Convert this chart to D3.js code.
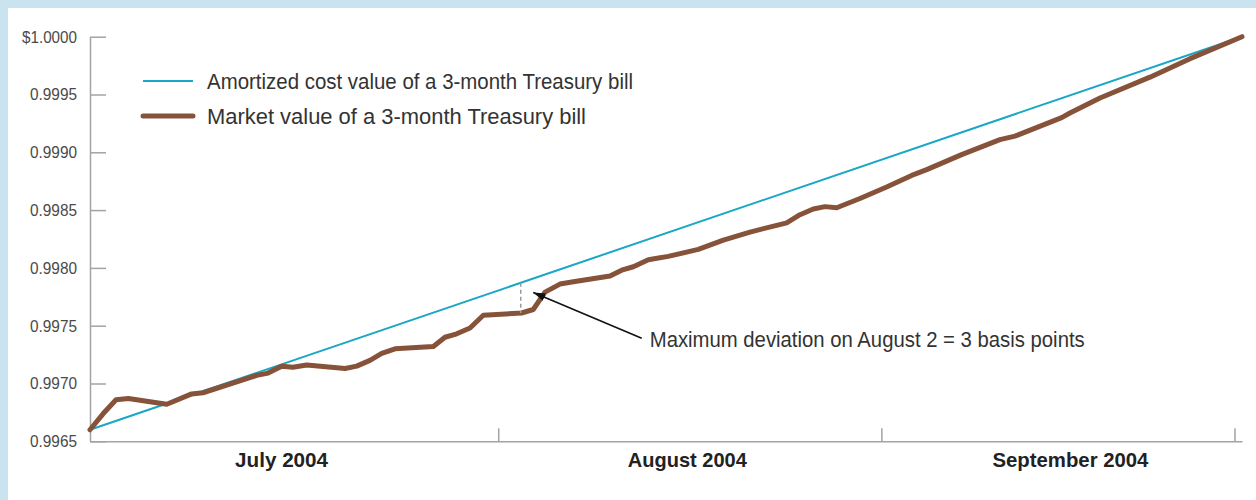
<!DOCTYPE html>
<html>
<head>
<meta charset="utf-8">
<script src="https://cdn.jsdelivr.net/npm/d3@7"></script>
<style>
  html, body { margin: 0; padding: 0; background: #c9e4f0; }
  svg { display: block; }
</style>
</head>
<body>
<script>
// x is days counted from the bill's issue at the start of July 2004
const marketDays = [0, 1.06, 2.08, 3.06, 6.13, 8.12, 9.02, 13.31, 14.22, 15.31, 16.2, 17.31,
  20.37, 21.3, 22.36, 23.3, 24.36, 27.42, 28.35, 29.29, 30.35, 31.41, 34.47, 35.4, 36.34,
  37.53, 38.6, 41.53, 42.46, 43.39, 44.59, 46.18, 48.58, 50.58, 52.71, 55.64, 56.7, 57.76,
  58.7, 59.63, 61.49, 63.62, 65.62, 66.82, 69.61, 72.67, 73.87, 77.6, 78.26, 80.66, 84.65,
  87.85, 92]
const marketValues = [0.99660, 0.99674, 0.99686, 0.99687, 0.99682, 0.99691, 0.99692, 0.99707,
  0.99709, 0.99715, 0.99714, 0.99716, 0.99713, 0.99715, 0.99720, 0.99726, 0.99730, 0.99732,
  0.99740, 0.99743, 0.99748, 0.99759, 0.99761, 0.99764, 0.99779, 0.99786, 0.99788, 0.99793,
  0.99798, 0.99801, 0.99807, 0.99810, 0.99816, 0.99824, 0.99831, 0.99839, 0.99846, 0.99851,
  0.99853, 0.99852, 0.99860, 0.99870, 0.99880, 0.99885, 0.99898, 0.99911, 0.99914, 0.99930,
  0.99934, 0.99947, 0.99965, 0.99981, 1.00000]
const amortDays = [0, 92]
const amortValues = [0.99660, 1.00000]

const yTicks = [0.9965, 0.9970, 0.9975, 0.9980, 0.9985, 0.9990, 0.9995, 1.0000]
const yTickLabels = ['0.9965', '0.9970', '0.9975', '0.9980', '0.9985', '0.9990', '0.9995', '$1.0000']
const monthTickDays = [32.6, 63.2, 91.4]
const monthLabelDays = [15.3, 47.7, 78.3]
const monthLabels = ['July 2004', 'August 2004', 'September 2004']
const legendLabels = ['Amortized cost value of a 3-month Treasury bill', 'Market value of a 3-month Treasury bill']

// annotation: max deviation day, arrow tail / tip, text position
const noteDay = 34.4
const noteArrow = [[44.06, 0.997391], [35.4, 0.997788]]
const noteAt = [44.7, 0.99732]
const noteText = 'Maximum deviation on August 2 = 3 basis points'

const WIDTH = 1256
const HEIGHT = 500
const BLUE = '#1aa7c6'
const BROWN = '#86533a'
const AXIS = '#a3a3a3'
const FONT = '"Liberation Sans", Arial, sans-serif'

// the original face is condensed, so squeeze text to the widths it takes there
const MONTH_WIDTHS = [93, 119, 156]
const LEGEND_WIDTHS = [426, 379]
const NOTE_WIDTH = 435

const svg = d3.select('body')
  .append('svg')
  .attr('width', WIDTH)
  .attr('height', HEIGHT)
  .style('font-family', FONT)

svg.append('rect')
  .attr('width', WIDTH).attr('height', HEIGHT)
  .attr('fill', '#c9e4f0')
svg.append('rect')
  .attr('x', 8).attr('y', 8)
  .attr('width', WIDTH - 8).attr('height', HEIGHT - 8)
  .attr('fill', '#fff')

const x = d3.scaleLinear().domain([0, 92]).range([90, 1242])
const y = d3.scaleLinear().domain([0.9965, 1.0000]).range([441.3, 36.7])

// y axis, ticks pointing into the plot
const yAxis = d3.axisLeft(y)
  .tickValues(yTicks)
  .tickSizeInner(-16)
  .tickSizeOuter(0)
  .tickPadding(13)
  .tickFormat((d, i) => yTickLabels[i])

const gy = svg.append('g')
  .attr('transform', `translate(${x(0)},0)`)
  .call(yAxis)
gy.select('.domain').attr('stroke', AXIS).attr('stroke-width', 1.5)
gy.selectAll('.tick line').attr('stroke', AXIS).attr('stroke-width', 1.5)
gy.selectAll('.tick text')
  .attr('fill', '#4a4a4a')
  .style('font-family', FONT)
  .attr('font-size', '17px')
  .attr('textLength', (d, i) => yTickLabels[i].length === 7 ? 55 : 47)
  .attr('lengthAdjust', 'spacingAndGlyphs')

// x axis, month boundaries as short upward ticks
const xAxis = d3.axisBottom(x)
  .tickValues(monthTickDays)
  .tickSizeInner(-13)
  .tickSizeOuter(0)
  .tickFormat('')

const gx = svg.append('g')
  .attr('transform', `translate(0,${y(0.9965)})`)
  .call(xAxis)
gx.select('.domain').attr('stroke', AXIS).attr('stroke-width', 1.5)
gx.selectAll('.tick line').attr('stroke', AXIS).attr('stroke-width', 1.5)

svg.append('g')
  .selectAll('text')
  .data(monthLabels)
  .join('text')
    .attr('x', (d, i) => x(monthLabelDays[i]))
    .attr('y', 467)
    .attr('text-anchor', 'middle')
    .attr('font-size', '21px')
    .attr('font-weight', 'bold')
    .attr('fill', '#222')
    .attr('textLength', (d, i) => MONTH_WIDTHS[i])
    .attr('lengthAdjust', 'spacingAndGlyphs')
    .text(d => d)

// lines
const amortData = amortDays.map((d, i) => [d, amortValues[i]])
const marketData = marketDays.map((d, i) => [d, marketValues[i]])
const line = d3.line().x(d => x(d[0])).y(d => y(d[1]))

svg.append('path')
  .datum(amortData)
  .attr('d', line)
  .attr('fill', 'none')
  .attr('stroke', BLUE)
  .attr('stroke-width', 2)

svg.append('path')
  .datum(marketData)
  .attr('d', line)
  .attr('fill', 'none')
  .attr('stroke', BROWN)
  .attr('stroke-width', 5)
  .attr('stroke-linejoin', 'round')
  .attr('stroke-linecap', 'round')

// dashed deviation marker
const amortAt = d3.scaleLinear().domain(amortDays).range(amortValues)
const marketAt = d3.scaleLinear().domain(marketDays).range(marketValues)
svg.append('line')
  .attr('x1', x(noteDay)).attr('x2', x(noteDay))
  .attr('y1', y(amortAt(noteDay)))
  .attr('y2', y(marketAt(noteDay)))
  .attr('stroke', '#999')
  .attr('stroke-width', 1.5)
  .attr('stroke-dasharray', '4,3')

// arrow
svg.append('defs').append('marker')
  .attr('id', 'arrow')
  .attr('viewBox', '0 0 12 8')
  .attr('refX', 12).attr('refY', 4)
  .attr('markerWidth', 12).attr('markerHeight', 8)
  .attr('markerUnits', 'userSpaceOnUse')
  .attr('orient', 'auto')
  .append('path')
  .attr('d', 'M0,0 L12,4 L0,8 Z')
  .attr('fill', '#111')

svg.append('line')
  .attr('x1', x(noteArrow[0][0])).attr('y1', y(noteArrow[0][1]))
  .attr('x2', x(noteArrow[1][0])).attr('y2', y(noteArrow[1][1]))
  .attr('stroke', '#111')
  .attr('stroke-width', 1.6)
  .attr('marker-end', 'url(#arrow)')

svg.append('text')
  .attr('x', x(noteAt[0]))
  .attr('y', y(noteAt[1]))
  .attr('font-size', '22px')
  .attr('fill', '#333')
  .attr('textLength', NOTE_WIDTH)
  .attr('lengthAdjust', 'spacingAndGlyphs')
  .text(noteText)

// legend
const legend = svg.append('g')
  .selectAll('g')
  .data(legendLabels)
  .join('g')
    .attr('transform', (d, i) => `translate(143,${81 + i * 35})`)

legend.append('line')
  .attr('x1', 0).attr('x2', 50)
  .attr('stroke', (d, i) => i === 0 ? BLUE : BROWN)
  .attr('stroke-width', (d, i) => i === 0 ? 2 : 5)
  .attr('stroke-linecap', (d, i) => i === 0 ? 'butt' : 'round')

legend.append('text')
  .attr('x', 64)
  .attr('y', 8)
  .attr('font-size', '22px')
  .attr('fill', '#333')
  .attr('textLength', (d, i) => LEGEND_WIDTHS[i])
  .attr('lengthAdjust', 'spacingAndGlyphs')
  .text(d => d)
</script>
</body>
</html>
